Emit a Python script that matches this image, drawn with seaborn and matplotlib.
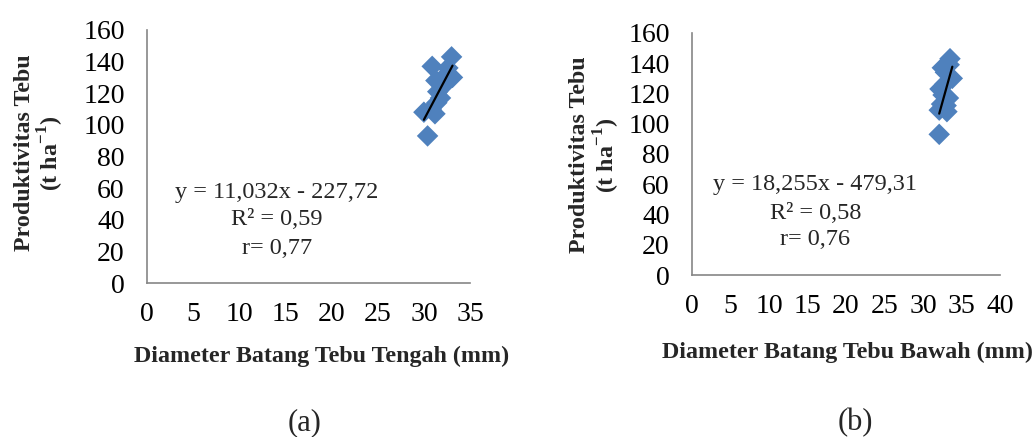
import numpy as np
import pandas as pd
import seaborn as sns
import matplotlib.pyplot as plt

# (a) diameter of the middle stalk vs productivity
diam_tengah = [30.4, 30.0, 30.8, 31.2, 31.4, 31.8, 31.5, 32.0, 31.3, 32.3, 33.1, 30.9, 32.6, 33.0]
prod_a = [93, 108, 110, 107, 114, 117, 121, 124, 128, 131, 130, 137, 136, 143]
coef_a = (11.032, -227.72)

# (b) diameter of the lower stalk vs productivity
diam_bawah = [32.1, 32.1, 33.1, 32.2, 33.3, 32.6, 32.9, 32.5, 33.8, 33.5, 32.8, 32.4, 33.0, 33.4]
prod_b = [93, 109, 108, 123, 117, 119, 134, 137, 130, 143, 126, 113, 112, 139]
coef_b = (18.255, -479.31)

sns.set_style("white")
plt.rcParams["font.family"] = ["Liberation Serif", "DejaVu Serif"]
plt.rcParams["mathtext.fontset"] = "custom"
plt.rcParams["mathtext.rm"] = "Liberation Serif"
plt.rcParams["mathtext.bf"] = "Liberation Serif:bold"

blue = "#4F81BD"
grey = "#868686"

fig = plt.figure(figsize=(10.36, 4.37), dpi=100)
ax1 = fig.add_axes([0.1419, 0.3524, 0.3118, 0.579])
ax2 = fig.add_axes([0.668, 0.3707, 0.2973, 0.5538])


def panel(ax, x, y, coef, xmax, xlabel, eq, r2, r, tx, ty, xl, yl):
    df = pd.DataFrame({"x": x, "y": y})
    sns.scatterplot(data=df, x="x", y="y", marker="D", s=120, color=blue,
                    edgecolor="none", ax=ax, zorder=3)
    xs = np.array([min(x), max(x)])
    ax.plot(xs, coef[0] * xs + coef[1], color="black", lw=1.6, zorder=4)
    ax.set_xlim(0, xmax)
    ax.set_ylim(0, 160)
    ax.set_xticks(range(0, xmax + 1, 5))
    ax.set_yticks(range(0, 161, 20))
    for s in ["top", "right"]:
        ax.spines[s].set_visible(False)
    for s in ["left", "bottom"]:
        ax.spines[s].set_color(grey)
        ax.spines[s].set_linewidth(1.2)
    ax.tick_params(axis="both", direction="out", length=7, width=1.2,
                   color=grey, labelsize=20, labelcolor="black")
    ax.tick_params(axis="y", pad=9)
    ax.tick_params(axis="x", pad=7)
    ax.set_xlabel(xlabel, fontsize=17.3, fontweight="bold")
    ax.set_ylabel("Produktivitas Tebu\n(t ha$^{\\mathbf{-1}}$)", fontsize=17.3,
                  fontweight="bold", linespacing=1.05)
    ax.xaxis.set_label_coords(xl[0], xl[1])
    ax.yaxis.set_label_coords(yl[0], yl[1])
    for txt, yy in zip([eq, r2, r], ty):
        ax.text(tx, yy, txt, transform=ax.transAxes, ha="center", va="center",
                fontsize=17.5)


panel(ax1, diam_tengah, prod_a, coef_a, 35, "Diameter Batang Tebu Tengah (mm)",
      "y = 11,032x - 227,72", "R² = 0,59", "r= 0,77",
      0.402, [0.356, 0.249, 0.138], (0.54, -0.25), (-0.25, 0.514))
panel(ax2, diam_bawah, prod_b, coef_b, 40, "Diameter Batang Tebu Bawah (mm)",
      "y = 18,255x - 479,31", "R² = 0,58", "r= 0,76",
      0.40, [0.372, 0.256, 0.145], (0.506, -0.278), (-0.228, 0.496))

fig.text(305 / 1036, 1 - 423 / 437, "(a)", ha="center", va="center", fontsize=22)
fig.text(855 / 1036, 1 - 423 / 437, "(b)", ha="center", va="center", fontsize=22)

fig.savefig("out.png", dpi=100)
